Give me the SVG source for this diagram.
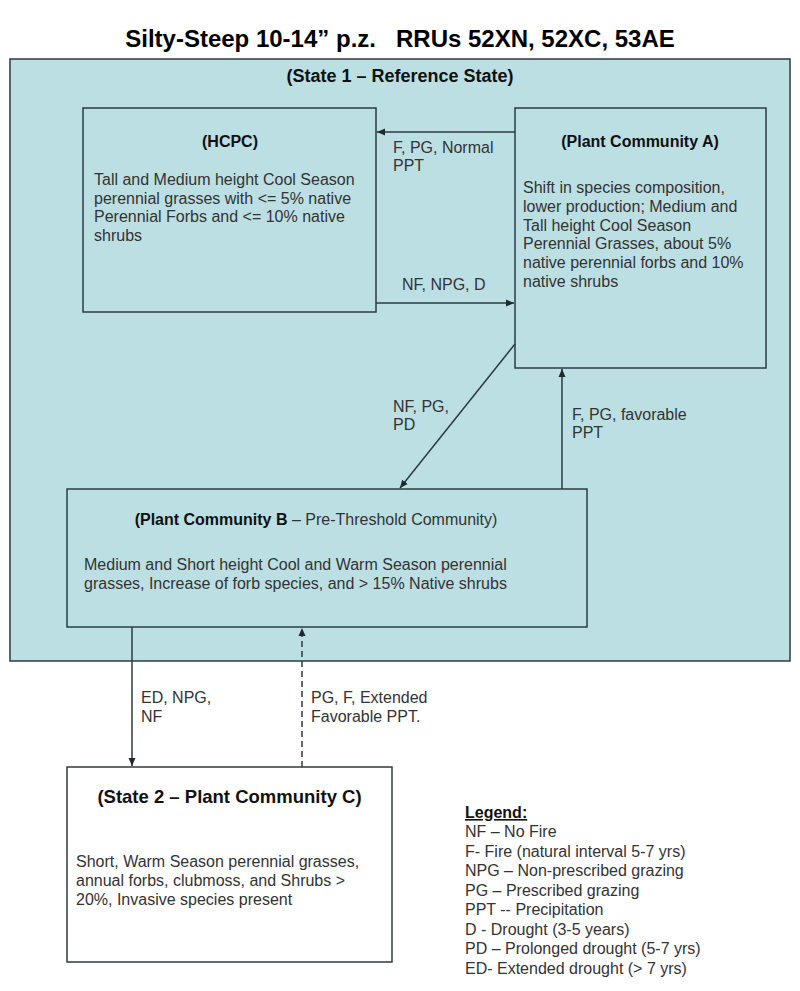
<svg xmlns="http://www.w3.org/2000/svg" width="800" height="991" viewBox="0 0 800 991">
<style>
  text { font-family: "Liberation Sans", Arial, sans-serif; }
  .title { font-size: 24px; font-weight: bold; fill: #000; white-space: pre; }
  .head { font-size: 16px; font-weight: bold; fill: #111; }
  .body { font-size: 16px; fill: #333; }
  .lbl { font-size: 16px; fill: #333; }
  .box { fill: #bbdfe3; stroke: #2e3b40; stroke-width: 1.5; }
  .wbox { fill: #ffffff; stroke: #2e3b40; stroke-width: 1.5; }
  .conn { stroke: #2e3b40; stroke-width: 1.5; fill: none; marker-end: url(#arrow); }
  .dash { stroke-dasharray: 6 4; }
</style>
<defs>
  <marker id="arrow" markerUnits="userSpaceOnUse" markerWidth="9" markerHeight="8" refX="8" refY="4" orient="auto">
    <path d="M0,0.5 L8,4 L0,7.5 z" fill="#1e2a2e"/>
  </marker>
</defs>
<rect width="800" height="991" fill="#ffffff"/>
<text class="title" x="400" y="47" text-anchor="middle" xml:space="preserve">Silty-Steep 10-14” p.z.   RRUs 52XN, 52XC, 53AE</text>

<g id="state1">
  <rect class="box" x="10" y="59" width="780" height="602"/>
  <text class="head" x="400" y="82" text-anchor="middle" style="font-size:18px">(State 1 – Reference State)</text>
</g>

<g id="hcpc">
  <rect class="box" x="83" y="108" width="293" height="204"/>
  <text class="head" x="230" y="147" text-anchor="middle">(HCPC)</text>
  <text class="body" x="94" y="185">Tall and Medium height Cool Season</text>
  <text class="body" x="94" y="203.5">perennial grasses with &lt;= 5% native</text>
  <text class="body" x="94" y="222">Perennial Forbs and &lt;= 10% native</text>
  <text class="body" x="94" y="240.5">shrubs</text>
</g>

<g id="pcA">
  <rect class="box" x="515" y="108" width="251" height="260"/>
  <text class="head" x="640" y="147" text-anchor="middle">(Plant Community A)</text>
  <text class="body" x="523" y="193">Shift in species composition,</text>
  <text class="body" x="523" y="211.8">lower production; Medium and</text>
  <text class="body" x="523" y="230.6">Tall height Cool Season</text>
  <text class="body" x="523" y="249.4">Perennial Grasses, about 5%</text>
  <text class="body" x="523" y="268.2">native perennial forbs and 10%</text>
  <text class="body" x="523" y="287">native shrubs</text>
</g>

<g id="pcB">
  <rect class="box" x="67" y="489" width="520" height="138"/>
  <text x="316" y="525" text-anchor="middle" class="body"><tspan style="font-weight:bold;fill:#111">(Plant Community B</tspan> – Pre-Threshold Community)</text>
  <text class="body" x="84" y="570">Medium and Short height Cool and Warm Season perennial</text>
  <text class="body" x="84" y="588.5">grasses, Increase of forb species, and &gt; 15% Native shrubs</text>
</g>

<g id="pcC">
  <rect class="wbox" x="67" y="767" width="325" height="195"/>
  <text class="head" x="229.5" y="803" text-anchor="middle" style="font-size:18.5px">(State 2 – Plant Community C)</text>
  <text class="body" x="76" y="867">Short, Warm Season perennial grasses,</text>
  <text class="body" x="76" y="886">annual forbs, clubmoss, and Shrubs &gt;</text>
  <text class="body" x="76" y="905">20%, Invasive species present</text>
</g>

<g id="connectors">
  <line class="conn" x1="515" y1="132" x2="377" y2="132"/>
  <line class="conn" x1="376" y1="303" x2="514" y2="303"/>
  <line class="conn" x1="515" y1="344" x2="400" y2="488"/>
  <line class="conn" x1="562" y1="489" x2="562" y2="369"/>
  <line class="conn" x1="132" y1="627" x2="132" y2="766"/>
  <line class="conn dash" x1="302" y1="767" x2="302" y2="628"/>
</g>

<g id="labels">
  <text class="lbl" x="393" y="153">F, PG, Normal</text>
  <text class="lbl" x="393" y="171">PPT</text>
  <text class="lbl" x="402" y="290">NF, NPG, D</text>
  <text class="lbl" x="393" y="412">NF, PG,</text>
  <text class="lbl" x="393" y="430">PD</text>
  <text class="lbl" x="572" y="420">F, PG, favorable</text>
  <text class="lbl" x="572" y="438">PPT</text>
  <text class="lbl" x="141" y="703">ED, NPG,</text>
  <text class="lbl" x="141" y="722">NF</text>
  <text class="lbl" x="311" y="703">PG, F, Extended</text>
  <text class="lbl" x="311" y="722">Favorable PPT.</text>
</g>

<g id="legend">
  <text class="head" x="465" y="818" text-decoration="underline">Legend:</text>
  <text class="body" x="465" y="837">NF – No Fire</text>
  <text class="body" x="465" y="856.5">F- Fire (natural interval 5-7 yrs)</text>
  <text class="body" x="465" y="876">NPG – Non-prescribed grazing</text>
  <text class="body" x="465" y="895.5">PG – Prescribed grazing</text>
  <text class="body" x="465" y="915">PPT -- Precipitation</text>
  <text class="body" x="465" y="934.5">D - Drought (3-5 years)</text>
  <text class="body" x="465" y="954">PD – Prolonged drought (5-7 yrs)</text>
  <text class="body" x="465" y="973.5">ED- Extended drought (&gt; 7 yrs)</text>
</g>
</svg>
